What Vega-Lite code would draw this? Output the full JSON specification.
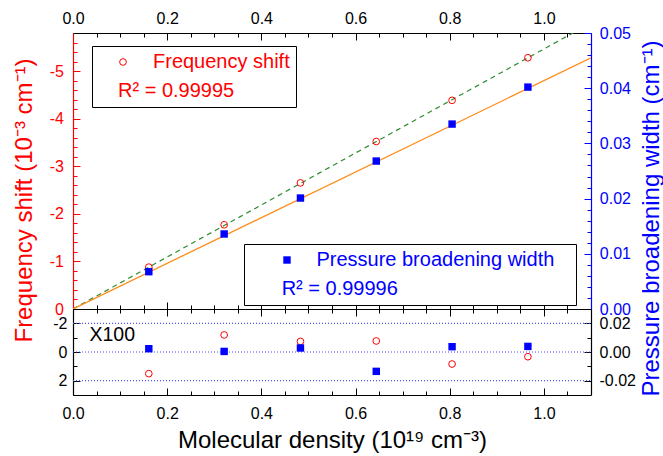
{
  "$schema": "https://vega.github.io/schema/vega-lite/v6.json",
  "padding": {"left": 12, "top": 10, "right": 0, "bottom": 4},
  "bounds": "flush",
  "spacing": 0,
  "config": {
    "font": "Liberation Sans",
    "view": {"stroke": null},
    "axis": {"grid": false, "labelFont": "Liberation Sans", "titleFont": "Liberation Sans", "labelFontSize": 16, "titleFontSize": 24, "titleFontWeight": "normal", "tickColor": "#000000", "domainColor": "#000000", "labelColor": "#000000", "labelFlush": false, "labelOverlap": false, "tickWidth": 1, "domainWidth": 1.2},
    "legend": {"labelFont": "Liberation Sans", "titleFont": "Liberation Sans"}
  },
  "datasets": {
    "pts": [
      {"x": 0.161, "shift": -0.88, "width": 0.00676},
      {"x": 0.321, "shift": -1.77, "width": 0.01359},
      {"x": 0.483, "shift": -2.65, "width": 0.0201},
      {"x": 0.644, "shift": -3.52, "width": 0.0268},
      {"x": 0.805, "shift": -4.385, "width": 0.0335},
      {"x": 0.966, "shift": -5.28, "width": 0.0402}
    ],
    "fitF": [{"x": 0, "shift": 0}, {"x": 1.1, "shift": -6.01}],
    "fitW": [{"x": 0, "width": 0}, {"x": 1.1, "width": 0.0455}],
    "res": [
      {"x": 0.161, "rf": 1.51, "rw": 0.0023},
      {"x": 0.321, "rf": -1.19, "rw": 0.0004},
      {"x": 0.483, "rf": -0.74, "rw": 0.0028},
      {"x": 0.644, "rf": -0.77, "rw": -0.0135},
      {"x": 0.805, "rf": 0.84, "rw": 0.0037},
      {"x": 0.966, "rf": 0.33, "rw": 0.0039}
    ],
    "hl": [{"v": -2}, {"v": 0}, {"v": 2}],
    "note": [{"label": "X100"}]
  },
  "vconcat": [
    {
      "width": 518,
      "height": 276,
      "resolve": {
        "scale": {"y": "independent", "color": "independent"},
        "axis": {"x": "independent", "y": "independent"},
        "legend": {"color": "independent"}
      },
      "layer": [
        {
          "data": {"name": "fitF"},
          "mark": {"type": "line", "color": "#2e8b2e", "strokeDash": [5, 4], "strokeWidth": 1.2, "clip": true},
          "encoding": {
            "x": {"field": "x", "type": "quantitative", "scale": {"domain": [0, 1.1], "nice": false, "zero": false},
              "axis": {"orient": "top", "values": [0, 0.2, 0.4, 0.6, 0.8, 1.0], "format": ".1f", "tickSize": -7, "labelPadding": 14, "title": null}},
            "y": {"field": "shift", "type": "quantitative", "scale": {"domain": [-5.8, 0], "reverse": true, "nice": false, "zero": false},
              "axis": {"orient": "left", "values": [0, -1, -2, -3, -4, -5], "labelExpr": "'' + datum.value", "tickSize": -7, "labelPadding": 16.5,
                "domainColor": "#ff0000", "tickColor": "#ff0000", "labelColor": "#ff0000",
                "title": "Frequency shift (10⁻³ cm⁻¹)", "titleColor": "#ff0000", "titleX": -36.5, "titleY": 167}}
          }
        },
        {
          "data": {"name": "pts"},
          "mark": {"type": "point", "shape": "circle", "filled": false, "size": 45, "strokeWidth": 1, "opacity": 1},
          "encoding": {
            "x": {"field": "x", "type": "quantitative", "scale": {"domain": [0, 1.1], "nice": false, "zero": false},
              "axis": {"orient": "top", "values": [0.05, 0.1, 0.15, 0.25, 0.3, 0.35, 0.45, 0.5, 0.55, 0.65, 0.7, 0.75, 0.85, 0.9, 0.95, 1.05], "labels": false, "domain": false, "tickSize": -4, "title": null}},
            "y": {"field": "shift", "type": "quantitative", "scale": {"domain": [-5.8, 0], "reverse": true, "nice": false, "zero": false},
              "axis": {"orient": "left", "values": [-0.2, -0.4, -0.6, -0.8, -1.2, -1.4, -1.6, -1.8, -2.2, -2.4, -2.6, -2.8, -3.2, -3.4, -3.6, -3.8, -4.2, -4.4, -4.6, -4.8, -5.2, -5.4, -5.6], "labels": false, "domain": false, "tickSize": -4, "tickColor": "#ff0000", "title": null}},
            "color": {"datum": "Frequency shift", "type": "nominal", "scale": {"range": ["#ff0000"]},
              "legend": {"orient": "none", "legendX": 19, "legendY": 13, "title": "\u200b\u2002\u2002R² = 0.99995", "titleOrient": "bottom", "titleAnchor": "start", "titleColor": "#ff0000", "titleFontSize": 20, "titleFontWeight": "normal", "titlePadding": 9,
                "labelColor": "#ff0000", "labelFontSize": 20, "labelOffset": 20, "labelLimit": 500, "symbolOffset": 15, "symbolType": "circle", "symbolSize": 45, "symbolStrokeColor": "#ff0000", "symbolFillColor": "transparent", "symbolStrokeWidth": 1, "symbolOpacity": 1,
                "padding": 6, "strokeColor": "#000000", "fillColor": "#ffffff"}}
          }
        },
        {
          "data": {"name": "fitW"},
          "mark": {"type": "line", "color": "#ff8c1a", "strokeWidth": 1.3, "clip": true},
          "encoding": {
            "x": {"field": "x", "type": "quantitative", "scale": {"domain": [0, 1.1], "nice": false, "zero": false},
              "axis": {"orient": "bottom", "values": [0, 0.2, 0.4, 0.6, 0.8, 1.0], "labels": false, "tickSize": -7, "title": null}},
            "y": {"field": "width", "type": "quantitative", "scale": {"domain": [0, 0.05], "nice": false, "zero": false},
              "axis": {"orient": "right", "values": [0, 0.01, 0.02, 0.03, 0.04, 0.05], "format": ".2f", "tickSize": -7, "labelPadding": 15.3,
                "domainColor": "#0000ff", "tickColor": "#0000ff", "labelColor": "#0000ff",
                "title": "Pressure broadening width (cm⁻¹)", "titleColor": "#0000ff", "titleAngle": 270, "titleBaseline": "alphabetic", "titleX": 67, "titleY": 185}}
          }
        },
        {
          "data": {"name": "pts"},
          "mark": {"type": "square", "size": 55, "filled": true, "opacity": 1},
          "encoding": {
            "x": {"field": "x", "type": "quantitative", "scale": {"domain": [0, 1.1], "nice": false, "zero": false},
              "axis": {"orient": "bottom", "values": [0.05, 0.1, 0.15, 0.25, 0.3, 0.35, 0.45, 0.5, 0.55, 0.65, 0.7, 0.75, 0.85, 0.9, 0.95, 1.05], "labels": false, "domain": false, "tickSize": -4, "title": null}},
            "y": {"field": "width", "type": "quantitative", "scale": {"domain": [0, 0.05], "nice": false, "zero": false},
              "axis": {"orient": "right", "values": [0.002, 0.004, 0.006, 0.008, 0.012, 0.014, 0.016, 0.018, 0.022, 0.024, 0.026, 0.028, 0.032, 0.034, 0.036, 0.038, 0.042, 0.044, 0.046, 0.048], "labels": false, "domain": false, "tickSize": -4, "tickColor": "#0000ff", "title": null}},
            "color": {"datum": "Pressure broadening width", "type": "nominal", "scale": {"range": ["#0000ff"]},
              "legend": {"orient": "none", "legendX": 171, "legendY": 211, "title": "\u200b\u2002\u2002\u2002\u200aR² = 0.99996", "titleOrient": "bottom", "titleAnchor": "start", "titleColor": "#0000ff", "titleFontSize": 20, "titleFontWeight": "normal", "titlePadding": 9,
                "labelColor": "#0000ff", "labelFontSize": 20, "labelOffset": 19.4, "labelLimit": 600, "labelExpr": "datum.label + '\u2002\u00a0\u200b'", "symbolOffset": 27, "symbolType": "square", "symbolSize": 55, "symbolFillColor": "#0000ff", "symbolStrokeColor": "#0000ff", "symbolStrokeWidth": 0, "symbolOpacity": 1,
                "padding": 6, "strokeColor": "#000000", "fillColor": "#ffffff"}}
          }
        }
      ]
    },
    {
      "width": 518,
      "height": 86,
      "resolve": {
        "scale": {"y": "independent"},
        "axis": {"x": "independent", "y": "independent"}
      },
      "layer": [
        {
          "data": {"name": "hl"},
          "mark": {"type": "rule", "color": "#4f4fff", "strokeDash": [1, 2], "strokeWidth": 1.2},
          "encoding": {
            "x": {"datum": 0, "type": "quantitative", "scale": {"domain": [0, 1.1], "nice": false, "zero": false},
              "axis": {"orient": "bottom", "values": [0, 0.2, 0.4, 0.6, 0.8, 1.0], "format": ".1f", "tickSize": -7, "labelPadding": 17,
                "title": "Molecular density (10¹⁹ cm⁻³)", "titlePadding": 7}},
            "x2": {"datum": 1.1},
            "y": {"field": "v", "type": "quantitative", "scale": {"domain": [-3, 3], "reverse": true, "nice": false, "zero": false},
              "axis": {"orient": "left", "values": [-2, 0, 2], "labelExpr": "'' + datum.value", "tickSize": -7, "labelPadding": 13, "title": null}}
          }
        },
        {
          "data": {"name": "res"},
          "mark": {"type": "point", "shape": "circle", "filled": false, "size": 45, "strokeWidth": 1, "color": "#ff0000", "opacity": 1},
          "encoding": {
            "x": {"field": "x", "type": "quantitative", "scale": {"domain": [0, 1.1], "nice": false, "zero": false},
              "axis": {"orient": "bottom", "values": [0.05, 0.1, 0.15, 0.25, 0.3, 0.35, 0.45, 0.5, 0.55, 0.65, 0.7, 0.75, 0.85, 0.9, 0.95, 1.05], "labels": false, "domain": false, "tickSize": -4, "title": null}},
            "y": {"field": "rf", "type": "quantitative", "scale": {"domain": [-3, 3], "reverse": true, "nice": false, "zero": false},
              "axis": {"orient": "left", "values": [-1, 1], "labels": false, "domain": false, "tickSize": -4, "title": null}}
          }
        },
        {
          "data": {"name": "res"},
          "mark": {"type": "square", "size": 55, "filled": true, "color": "#0000ff", "opacity": 1},
          "encoding": {
            "x": {"field": "x", "type": "quantitative", "scale": {"domain": [0, 1.1], "nice": false, "zero": false},
              "axis": {"orient": "top", "values": [0, 0.2, 0.4, 0.6, 0.8, 1.0], "labels": false, "tickSize": -7, "title": null}},
            "y": {"field": "rw", "type": "quantitative", "scale": {"domain": [-0.03, 0.03], "nice": false, "zero": false},
              "axis": {"orient": "right", "values": [-0.02, 0, 0.02], "labelExpr": "replace(format(datum.value, '.2f'), '\u2212', '-')", "tickSize": -7, "labelPadding": 15, "title": null}}
          }
        },
        {
          "data": {"name": "note"},
          "mark": {"type": "text", "align": "left", "baseline": "middle", "fontSize": 19.5, "color": "#000000", "font": "Liberation Sans"},
          "encoding": {
            "x": {"datum": 0.035, "type": "quantitative", "scale": {"domain": [0, 1.1], "nice": false, "zero": false},
              "axis": {"orient": "top", "values": [0.05, 0.1, 0.15, 0.25, 0.3, 0.35, 0.45, 0.5, 0.55, 0.65, 0.7, 0.75, 0.85, 0.9, 0.95, 1.05], "labels": false, "domain": false, "tickSize": -4, "title": null}},
            "y": {"datum": 0.0116, "type": "quantitative", "scale": {"domain": [-0.03, 0.03], "nice": false, "zero": false},
              "axis": {"orient": "right", "values": [-0.01, 0.01], "labels": false, "domain": false, "tickSize": -4, "title": null}},
            "text": {"field": "label"}
          }
        }
      ]
    }
  ]
}
